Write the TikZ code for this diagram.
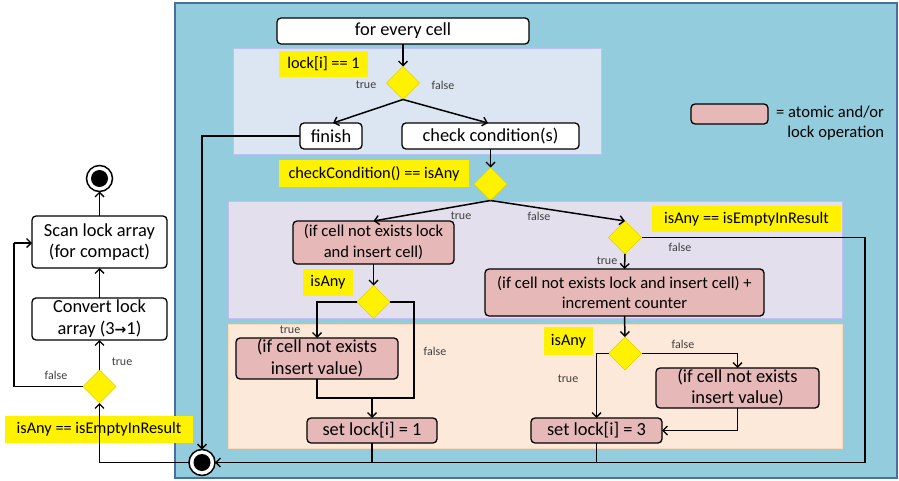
\documentclass[tikz,border=0pt]{standalone}
\usepackage{fontspec}
\setmainfont{Carlito}
\newfontfamily\arrowfont{DejaVu Sans}
\usetikzlibrary{shapes.geometric,arrows.meta}
\definecolor{frameblue}{RGB}{147,205,221}
\definecolor{frameedge}{RGB}{74,110,160}
\definecolor{topreg}{RGB}{220,230,242}
\definecolor{purreg}{RGB}{228,223,236}
\definecolor{orareg}{RGB}{253,233,217}
\definecolor{pinkfill}{RGB}{230,185,184}
\definecolor{dmdedge}{RGB}{225,210,0}
\definecolor{lbl}{RGB}{64,64,64}
\begin{document}
\begin{tikzpicture}[x=1pt,y=-1pt,
  every node/.style={inner sep=0pt, outer sep=0pt},
  bigfont/.style={font=\fontsize{18.4}{21.5}\selectfont},
  midfont/.style={font=\fontsize{16.6}{20}\selectfont},
  wbox/.style={bigfont, draw=black, line width=1.3pt, rounded corners=4pt, fill=white, align=center},
  pbox/.style={wbox, fill=pinkfill},
  ylabel/.style={font=\fontsize{16.3}{19}\selectfont, fill=yellow, align=center},
  dmd/.style={diamond, aspect=1, fill=yellow, draw=dmdedge, line width=0.6pt, minimum width=33pt, minimum height=33pt},
  small/.style={font=\fontsize{12}{13}\selectfont, text=lbl},
  conn/.style={line width=1.5pt, draw=black},
  arr/.style={conn, -{Straight Barb[length=4.5pt,width=9pt,line width=1.4pt]}},
  endc/.style={circle, draw=black, line width=1.5pt, fill=white, minimum size=26pt}
]
\useasboundingbox (0,0) rectangle (899,481);
\fill[white] (0,0) rectangle (899,481);
% frames
\path[fill=frameblue, draw=frameedge, line width=1.8pt] (175,3) rectangle (897,478);
\path[fill=topreg, draw=topreg!85!blue] (233,48) rectangle (601,154);
\path[fill=purreg, draw=purreg!85!blue] (228,201) rectangle (842,318);
\path[fill=orareg, draw=orareg!85!orange] (228,324) rectangle (842,448);

% labels
\node[ylabel, minimum width=89pt, minimum height=26pt] (lab1) at (323.5,64) {lock[i] == 1};
\node[ylabel, minimum width=190pt, minimum height=27pt] (lab2) at (374,174) {checkCondition() == isAny};
\node[ylabel, minimum width=189pt, minimum height=26pt] (lab3) at (746.5,219) {isAny == isEmptyInResult};
\node[ylabel, minimum width=50pt, minimum height=27pt] (lab4) at (328,282.5) {isAny};
\node[ylabel, minimum width=49pt, minimum height=28pt] (lab5) at (568.5,341) {isAny};
\node[ylabel, minimum width=188pt, minimum height=27pt] (lab6) at (99,429.5) {isAny == isEmptyInResult};

% nodes
\node[wbox, minimum width=252pt, minimum height=26pt] (start) at (403,31) {for every cell};
\node[dmd] (d1) at (403,83) {};
\node[wbox, minimum width=62pt, minimum height=26pt] (finish) at (331,136) {finish};
\node[wbox, minimum width=177pt, minimum height=26pt] (check) at (490.5,136) {check condition(s)};
\node[dmd] (d2) at (490.5,184) {};
\node[pbox, midfont, font=\fontsize{16.6}{21}\selectfont, minimum width=161pt, minimum height=43pt] (p1) at (373.5,242.5) {(if cell not exists lock\\and insert cell)};
\node[dmd] (d3) at (625,237.5) {};
\node[pbox, font=\fontsize{16.6}{19.5}\selectfont, minimum width=279pt, minimum height=47pt] (p3) at (624.5,292.5) {(if cell not exists lock and insert cell) +\\increment counter};
\node[dmd] (d5) at (373.5,302) {};
\node[dmd] (d4) at (625,353.5) {};
\node[pbox, font=\fontsize{18.4}{22}\selectfont, minimum width=162pt, minimum height=41pt] (p2) at (317,358.5) {(if cell not exists\\insert value)};
\node[pbox, font=\fontsize{18.4}{21}\selectfont, minimum width=163pt, minimum height=40pt] (p4) at (737.5,388) {(if cell not exists\\insert value)};
\node[pbox, minimum width=130pt, minimum height=25pt] (set1) at (372,430.5) {set lock[i] = 1};
\node[pbox, minimum width=131pt, minimum height=25pt] (set3) at (596.5,430.5) {set lock[i] = 3};
\node[endc] (f1) at (202,462.5) {};
\fill[black] (f1.center) circle (8.5pt);
\node[wbox, font=\fontsize{18.4}{21}\selectfont, minimum width=135pt, minimum height=52pt] (scan) at (99.5,242) {Scan lock array\\(for compact)};
\node[wbox, font=\fontsize{18.4}{22}\selectfont, minimum width=135pt, minimum height=42pt] (conv) at (99.5,319) {Convert lock\\array (3\raisebox{0.5pt}{\arrowfont\bfseries\fontsize{14}{14}\selectfont →}1)};
\node[dmd] (d6) at (99.5,386.5) {};
\node[endc] (f2) at (99.5,178.5) {};
\fill[black] (f2.center) circle (8.5pt);

% legend
\node[pbox, minimum width=77pt, minimum height=20pt] (leg) at (729.5,114) {};
\node[midfont, align=right, anchor=east] (legt) at (884,123.5) {= atomic and/or\\lock operation};

% connectors
\draw[arr] (start.south) -- (d1.north);
\draw[arr] (d1.south) -- (333,123);
\draw[arr] (d1.south) -- (488,123);
\node[small] (t1) at (366,85) {true};
\node[small] (fl1) at (443,85) {false};
\draw[arr] (check.south) -- (d2.north);
\draw[arr] (d2.south) -- (p1.north);
\draw[arr] (d2.south) -- (d3.north);
\node[small] (t2) at (461,216) {true};
\node[small] (fl2) at (539,216) {false};
\coordinate (c3) at (865,237.5);
\coordinate (c4) at (865,462.5);
\draw[conn] (d3.east) -- (c3) -- (c4);
\draw[arr] (c4) -- (f1.east);
\node[small] (fl3) at (680,247) {false};
\draw[arr] (d3.south) -- (p3.north);
\node[small] (t3) at (607,261) {true};
\draw[arr] (p3.south) -- (d4.north);
\draw[arr] (d4.west) -| (set3.north);
\node[small] (t4) at (568,379) {true};
\draw[arr] (d4.east) -| (p4.north);
\node[small] (fl4) at (683,344) {false};
\draw[arr] (p4.south) |- (set3.east);
\draw[conn] (set3.south) -- (set3.south |- c4);
\draw[arr] (p1.south) -- (d5.north);
\draw[arr] (d5.west) -| (p2.north);
\node[small] (t5) at (290,330) {true};
\coordinate (c5) at (414,302);
\coordinate (c6) at (414,398);
\coordinate (c7) at (372,398);
\draw[conn] (d5.east) -- (c5) -- (c6) -- (p2.south |- c6) -- (p2.south);
\node[small] (fl5) at (435,351) {false};
\draw[arr] (c7) -- (set1.north);
\draw[conn] (set1.south) -- (set1.south |- c4);
\draw[arr] (finish.west) -| (f1.north);
\draw[arr] (f1.west) -| (d6.south);
\draw[arr] (d6.north) -- (conv.south);
\node[small] (t6) at (122,362) {true};
\coordinate (c8) at (14,386.5);
\coordinate (c9) at (14,243);
\draw[conn] (d6.west) -- (c8) -- (c9);
\draw[arr] (c9) -- (scan.west |- c9);
\node[small] (fl6) at (56,375) {false};
\draw[arr] (conv.north) -- (scan.south);
\draw[arr] (scan.north) -- (f2.south);
\end{tikzpicture}
\end{document}
